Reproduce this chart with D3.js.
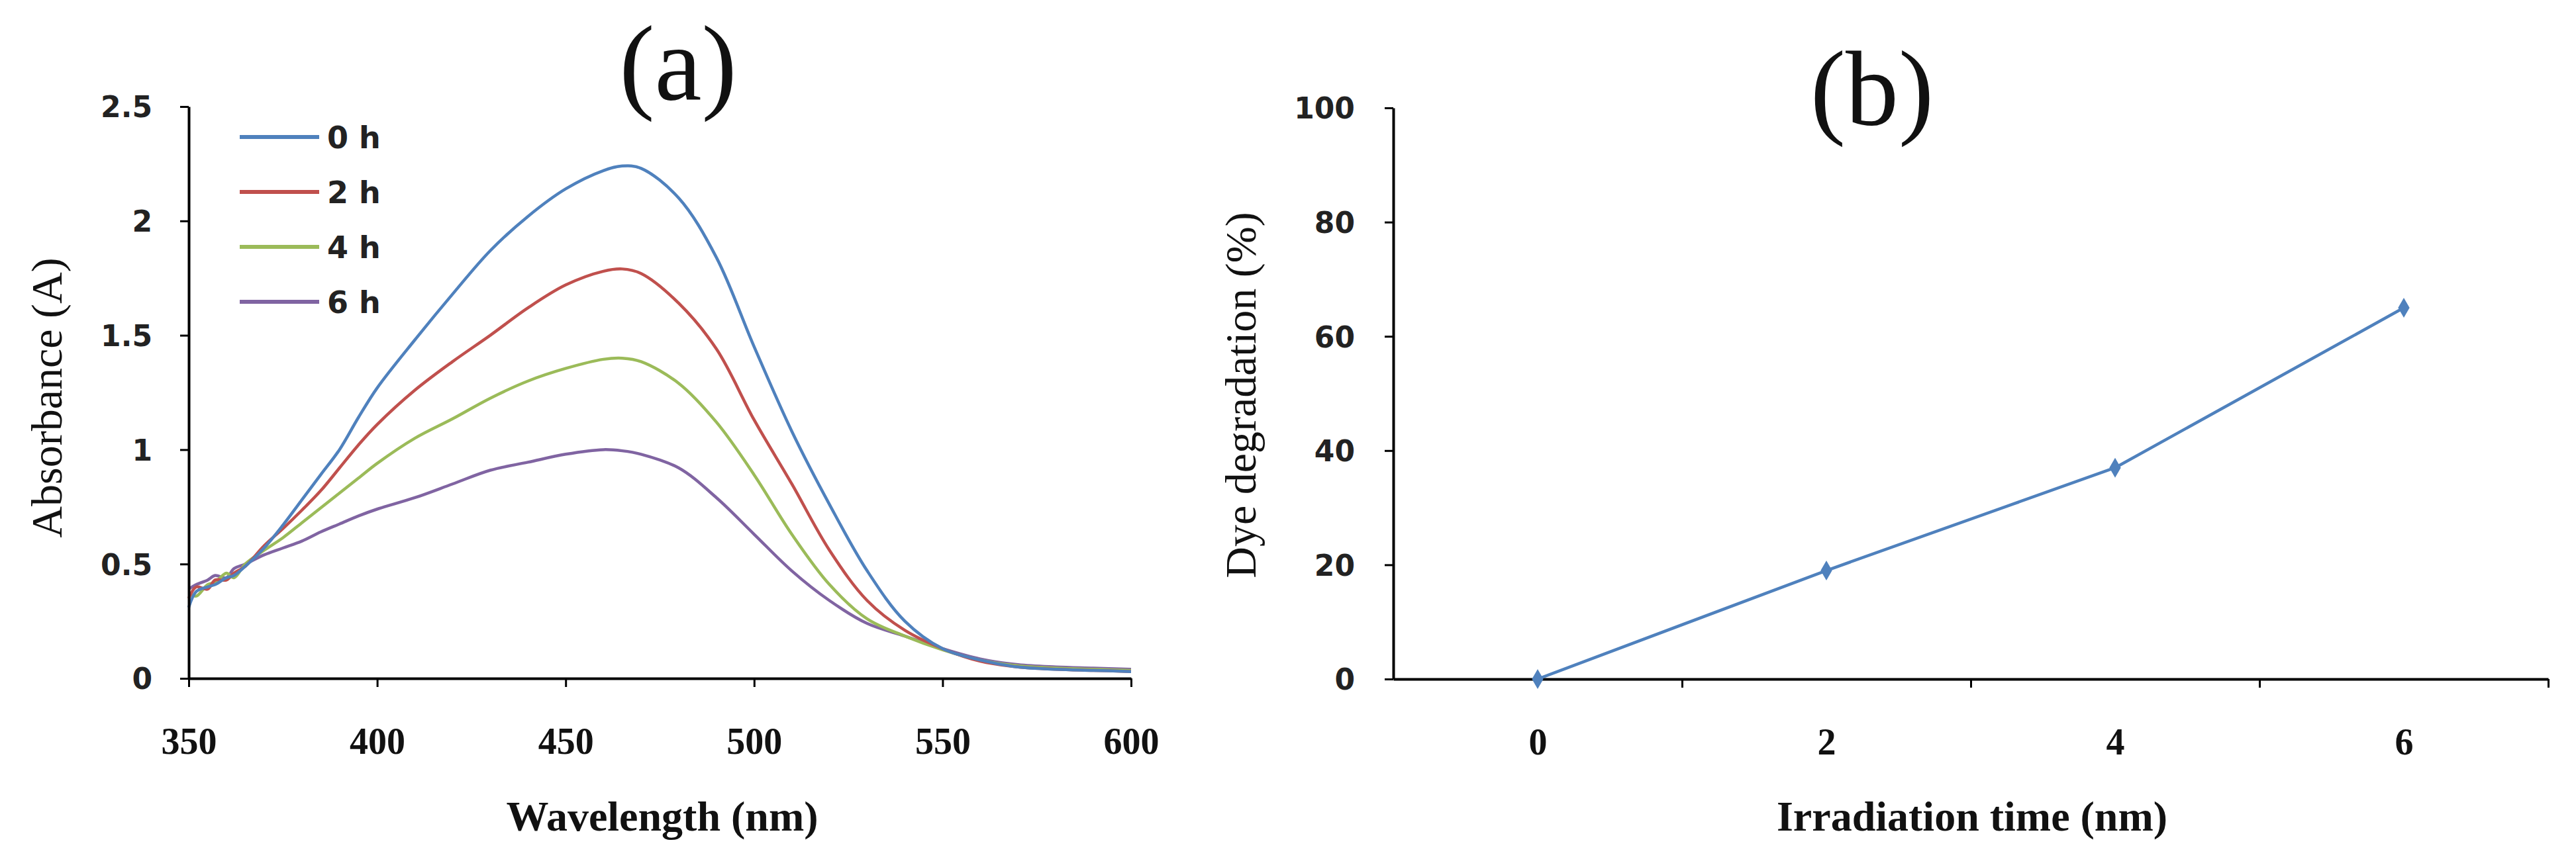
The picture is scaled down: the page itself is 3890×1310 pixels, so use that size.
<!DOCTYPE html>
<html>
<head>
<meta charset="utf-8">
<script src="https://cdn.jsdelivr.net/npm/d3@7"></script>
<style>
  html, body { margin: 0; padding: 0; background: #fff; }
  svg { display: block; }
</style>
</head>
<body>
<script>
// ---------------- DATA ----------------
const wavelengths = [350, 352, 355, 357, 360, 362, 365, 370, 375, 380, 385, 390, 395, 400, 410, 420, 430, 440, 450, 460, 465, 470, 480, 490, 500, 510, 520, 530, 540, 550, 560, 570, 580, 590, 600];
const seriesNames = ["0 h", "2 h", "4 h", "6 h"];
const abs0h = [0.31, 0.38, 0.40, 0.41, 0.44, 0.45, 0.49, 0.57, 0.67, 0.78, 0.89, 1.00, 1.14, 1.27, 1.48, 1.68, 1.87, 2.02, 2.14, 2.22, 2.24, 2.23, 2.10, 1.84, 1.45, 1.08, 0.76, 0.47, 0.25, 0.13, 0.08, 0.05, 0.04, 0.035, 0.03];
const abs2h = [0.35, 0.40, 0.39, 0.43, 0.43, 0.46, 0.49, 0.58, 0.655, 0.735, 0.82, 0.92, 1.02, 1.11, 1.26, 1.385, 1.50, 1.62, 1.72, 1.78, 1.79, 1.77, 1.64, 1.44, 1.13, 0.85, 0.56, 0.34, 0.21, 0.13, 0.075, 0.05, 0.04, 0.035, 0.03];
const abs4h = [0.37, 0.36, 0.41, 0.42, 0.46, 0.44, 0.50, 0.56, 0.615, 0.68, 0.745, 0.81, 0.875, 0.94, 1.05, 1.135, 1.225, 1.30, 1.355, 1.395, 1.40, 1.385, 1.29, 1.12, 0.89, 0.63, 0.41, 0.26, 0.185, 0.125, 0.08, 0.055, 0.045, 0.04, 0.035];
const abs6h = [0.39, 0.41, 0.43, 0.45, 0.44, 0.48, 0.50, 0.54, 0.57, 0.60, 0.64, 0.675, 0.71, 0.74, 0.79, 0.85, 0.91, 0.945, 0.98, 1.00, 0.995, 0.98, 0.92, 0.79, 0.63, 0.47, 0.34, 0.24, 0.185, 0.13, 0.085, 0.06, 0.05, 0.045, 0.04];
const seriesColors = ["#4F81BD", "#C0504D", "#9BBB59", "#8064A2"];

const aXTicks = [350, 400, 450, 500, 550, 600];
const aYTicks = [0, 0.5, 1, 1.5, 2, 2.5];
const aYTickLabels = ["0", "0.5", "1", "1.5", "2", "2.5"];

const times = [0, 2, 4, 6];
const degradation = [0, 19, 37, 65];
const bYTicks = [0, 20, 40, 60, 80, 100];
const bXTickMarks = [-1, 1, 3, 5, 7];

// ---------------- LAYOUT ----------------
const W = 3890, H = 1310;
const svg = d3.select("body").append("svg").attr("width", W).attr("height", H);

const serif = "'Liberation Serif', 'Times New Roman', serif";
const sansB = "'DejaVu Sans', Verdana, sans-serif";

// ---------- Panel (a) ----------
const ax = d3.scaleLinear().domain([350, 600]).range([285, 1708]);
const ay = d3.scaleLinear().domain([0, 2.5]).range([1025, 161]);

const gA = svg.append("g");

const allA = [abs0h, abs2h, abs4h, abs6h];
const lineA = d3.line()
  .x((d, i) => ax(wavelengths[i]))
  .y(d => ay(d))
  .curve(d3.curveCatmullRom.alpha(0.5));

allA.slice().reverse().forEach((vals, k) => {
  const idx = allA.length - 1 - k;
  gA.append("path")
    .attr("d", lineA(vals))
    .attr("fill", "none")
    .attr("stroke", seriesColors[idx])
    .attr("stroke-width", 4.5)
    .attr("stroke-linejoin", "round");
});

// axes a
const axA = gA.append("g").attr("transform", `translate(0,${ay(0)})`)
  .call(d3.axisBottom(ax).tickValues(aXTicks).tickSize(13).tickFormat(d => String(d)).tickSizeOuter(0));
const ayA = gA.append("g").attr("transform", `translate(${ax(350)},0)`)
  .call(d3.axisLeft(ay).tickValues(aYTicks).tickSize(13).tickFormat((d, i) => aYTickLabels[i]).tickSizeOuter(0));

[axA, ayA].forEach(g => {
  g.select(".domain").attr("stroke", "#000").attr("stroke-width", 4);
  g.selectAll(".tick line").attr("stroke", "#000").attr("stroke-width", 3);
});
axA.selectAll(".tick text")
  .attr("y", 94).attr("dy", "0.35em")
  .style("font-family", serif).style("font-weight", "bold").style("font-size", "56px").attr("fill", "#111");
ayA.selectAll(".tick text")
  .attr("x", -55).attr("dy", "0.36em")
  .style("font-family", sansB).style("font-weight", "bold").style("font-size", "44px").attr("fill", "#222");

// legend a
const legend = gA.append("g");
seriesNames.forEach((name, i) => {
  const yy = 207 + i * 83;
  legend.append("line").attr("x1", 362).attr("x2", 482).attr("y1", yy).attr("y2", yy)
    .attr("stroke", seriesColors[i]).attr("stroke-width", 6);
  legend.append("text").attr("x", 494).attr("y", yy).attr("dy", "0.36em")
    .style("font-family", sansB).style("font-weight", "bold").style("font-size", "46px")
    .attr("fill", "#222").text(name);
});

// titles a
gA.append("text").attr("x", 1024).attr("y", 150).attr("text-anchor", "middle")
  .style("font-family", serif).style("font-size", "160px").attr("fill", "#111").text("(a)");
gA.append("text").attr("x", 1000).attr("y", 1233).attr("dy", "0.35em").attr("text-anchor", "middle")
  .style("font-family", serif).style("font-weight", "bold").style("font-size", "64px").attr("fill", "#111")
  .text("Wavelength (nm)");
gA.append("text").attr("transform", "translate(70,601) rotate(-90)").attr("dy", "0.35em").attr("text-anchor", "middle")
  .style("font-family", serif).style("font-size", "66px").attr("fill", "#111")
  .text("Absorbance (A)");

// ---------- Panel (b) ----------
const bx = d3.scaleLinear().domain([-1, 7]).range([2104, 3848]);
const by = d3.scaleLinear().domain([0, 100]).range([1026, 163]);
const gB = svg.append("g");

const bxAxis = gB.append("g").attr("transform", `translate(0,${by(0)})`)
  .call(d3.axisBottom(bx).tickValues(bXTickMarks).tickSize(13).tickFormat("").tickSizeOuter(0));
const bxLabels = gB.append("g").attr("transform", `translate(0,${by(0)})`)
  .call(d3.axisBottom(bx).tickValues(times).tickSize(0).tickFormat(d => String(d)));
bxLabels.select(".domain").remove();
const byAxis = gB.append("g").attr("transform", `translate(${bx(-1)},0)`)
  .call(d3.axisLeft(by).tickValues(bYTicks).tickSize(13).tickFormat(d => String(d)).tickSizeOuter(0));

[bxAxis, byAxis].forEach(g => {
  g.select(".domain").attr("stroke", "#000").attr("stroke-width", 4);
  g.selectAll(".tick line").attr("stroke", "#000").attr("stroke-width", 3);
});
bxAxis.selectAll(".tick").filter(d => d === -1).select("line").remove();
bxLabels.selectAll(".tick text")
  .attr("y", 94).attr("dy", "0.35em")
  .style("font-family", serif).style("font-weight", "bold").style("font-size", "56px").attr("fill", "#111");
byAxis.selectAll(".tick text")
  .attr("x", -58).attr("dy", "0.36em")
  .style("font-family", sansB).style("font-weight", "bold").style("font-size", "44px").attr("fill", "#222");

const lineB = d3.line().x((d, i) => bx(times[i])).y(d => by(d));
gB.append("path").attr("d", lineB(degradation)).attr("fill", "none")
  .attr("stroke", "#4F81BD").attr("stroke-width", 4.5).attr("stroke-linejoin", "round");
gB.selectAll("path.mk").data(degradation).enter().append("path")
  .attr("class", "mk")
  .attr("transform", (d, i) => `translate(${bx(times[i])},${by(d)})`)
  .attr("d", d3.symbol().type(d3.symbolDiamond).size(260))
  .attr("fill", "#4F81BD");

gB.append("text").attr("x", 2827).attr("y", 188).attr("text-anchor", "middle")
  .style("font-family", serif).style("font-size", "160px").attr("fill", "#111").text("(b)");
gB.append("text").attr("x", 2978).attr("y", 1233).attr("dy", "0.35em").attr("text-anchor", "middle")
  .style("font-family", serif).style("font-weight", "bold").style("font-size", "64px").attr("fill", "#111")
  .text("Irradiation time (nm)");
gB.append("text").attr("transform", "translate(1873,597) rotate(-90)").attr("dy", "0.35em").attr("text-anchor", "middle")
  .style("font-family", serif).style("font-size", "66px").attr("fill", "#111")
  .text("Dye degradation (%)");
</script>
</body>
</html>
